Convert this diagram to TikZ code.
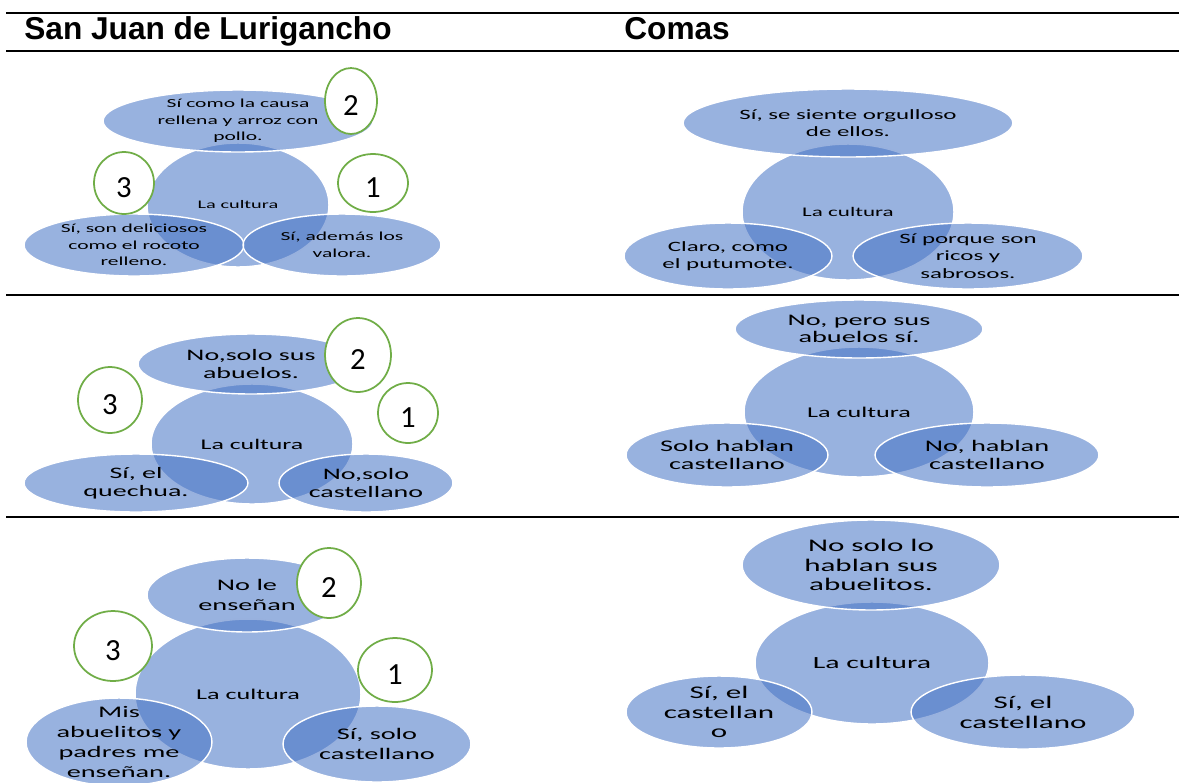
\documentclass[tikz,border=0pt]{standalone}
\usepackage{fontspec}
\setmainfont{Carlito}
\newfontfamily\widefont[FakeStretch=1.75]{Carlito}
\newfontfamily\headfont{Liberation Sans}
\usetikzlibrary{shapes.geometric}
\definecolor{bl}{RGB}{68,114,196}
\definecolor{gr}{RGB}{112,173,71}
\tikzset{
  bub/.style 2 args={ellipse, fill=bl, fill opacity=0.55, draw=white, line width=0.8pt,
    inner sep=0pt, minimum width=#1*0.04cm, minimum height=#2*0.04cm},
  txt/.style 2 args={align=center, inner sep=0pt, font=\widefont\fontsize{#1}{#2}\selectfont},
  num/.style 2 args={ellipse, draw=gr, fill=white, line width=1pt, inner sep=0pt,
    minimum width=#1*0.04cm, minimum height=#2*0.04cm, text height=17pt,
    font=\fontsize{17.5}{19}\selectfont},
  head/.style={anchor=base west, inner sep=0pt, font=\headfont\bfseries\fontsize{18}{21}\selectfont},
  hline/.style={line width=1.1pt}
}
\begin{document}
\begin{tikzpicture}[x=0.02cm,y=-0.02cm]
\useasboundingbox (0,0) rectangle (1179,782);
\draw[hline] (6,13) -- (1179,13);
\draw[hline] (6,51) -- (1179,51);
\draw[hline] (6,295) -- (1179,295);
\draw[hline] (6,517) -- (1179,517);
\node[head] (sjl) at (24,39) {San Juan de Lurigancho};
\node[head] (com) at (624,39) {Comas};

% fila 1, San Juan de Lurigancho
\node[bub={91}{62}] (c1) at (238,205) {};
\node[bub={135}{31}] (t1) at (238,121) {};
\node[bub={110}{31}] (l1) at (134,245) {};
\node[bub={99}{31}] (r1) at (342,245) {};
\node[txt={6.6}{8}] (c1t) at (c1) {La cultura};
\node[txt={7}{9.4}] (t1t) at (t1) {Sí como la causa\\rellena y arroz con\\pollo.};
\node[txt={7}{9.4}] (l1t) at (l1) {Sí, son deliciosos\\como el rocoto\\relleno.};
\node[txt={7}{9.4}] (r1t) at (r1) {Sí, además los\\valora.};
\node[num={26}{33}] (n2a) at (351,101) {2};
\node[num={30}{31}] (n3a) at (124,183) {3};
\node[num={35}{29}] (n1a) at (373,183) {1};

% fila 1, Comas
\node[bub={106}{68}] (c2) at (848,212) {};
\node[bub={165}{34}] (t2) at (848,123) {};
\node[bub={104}{33}] (l2) at (728,256) {};
\node[bub={115}{33}] (r2) at (968,256) {};
\node[txt={7.5}{9}] (c2t) at (c2) {La cultura};
\node[txt={8.1}{9.9}] (t2t) at (t2) {Sí, se siente orgulloso\\de ellos.};
\node[txt={8.1}{9.9}] (l2t) at (l2) {Claro, como\\el putumote.};
\node[txt={8.1}{9.9}] (r2t) at (r2) {Sí porque son\\ricos y\\sabrosos.};

% fila 2, San Juan de Lurigancho
\node[bub={101}{60}] (c3) at (252,444) {};
\node[bub={113}{30}] (t3) at (251,364) {};
\node[bub={112}{29}] (l3) at (136,483) {};
\node[bub={87}{29}] (r3) at (366,483) {};
\node[txt={8.4}{10}] (c3t) at (c3) {La cultura};
\node[txt={9.1}{10.2}] (t3t) at (t3) {No,solo sus\\abuelos.};
\node[txt={9.1}{10.2}] (l3t) at (l3) {Sí, el\\quechua.};
\node[txt={9.1}{10.2}] (r3t) at (r3) {No,solo\\castellano};
\node[num={33}{37}] (n2b) at (358,355) {2};
\node[num={32}{33}] (n3b) at (110,400) {3};
\node[num={30}{30}] (n1b) at (408,413) {1};

% fila 2, Comas
\node[bub={115}{65}] (c4) at (859,412) {};
\node[bub={124}{29}] (t4) at (859,329) {};
\node[bub={101}{32}] (l4) at (727,455) {};
\node[bub={112}{32}] (r4) at (987,455) {};
\node[txt={8.5}{10}] (c4t) at (c4) {La cultura};
\node[txt={9.2}{9.8}] (t4t) at (t4) {No, pero sus\\abuelos sí.};
\node[txt={9.2}{9.8}] (l4t) at (l4) {Solo hablan\\castellano};
\node[txt={9.2}{9.8}] (r4t) at (r4) {No, hablan\\castellano};

% fila 3, San Juan de Lurigancho
\node[bub={113}{75}] (c5) at (248,694) {};
\node[bub={100}{37}] (t5) at (247,595) {};
\node[bub={93}{44}] (l5) at (119,742) {};
\node[bub={94}{38}] (r5) at (377,744) {};
\node[txt={8.5}{10}] (c5t) at (c5) {La cultura};
\node[txt={9.2}{11.3}] (t5t) at (t5) {No le\\enseñan};
\node[txt={9.2}{11.3}] (l5t) at (l5) {Mis\\abuelitos y\\padres me\\enseñan.};
\node[txt={9.2}{11.3}] (r5t) at (r5) {Sí, solo\\castellano};
\node[num={32}{35}] (n2c) at (329,583) {2};
\node[num={39}{35}] (n3c) at (113,646) {3};
\node[num={37}{32}] (n1c) at (395,670) {1};

% fila 3, Comas
\node[bub={117}{61}] (c6) at (872,663) {};
\node[bub={129}{45}] (t6) at (871,565) {};
\node[bub={93}{36}] (l6) at (719,712) {};
\node[bub={112}{37}] (r6) at (1023,712) {};
\node[txt={9.7}{11}] (c6t) at (c6) {La cultura};
\node[txt={10.1}{11.3}] (t6t) at (t6) {No solo lo\\hablan sus\\abuelitos.};
\node[txt={10.1}{11.3}] (l6t) at (l6) {Sí, el\\castellan\\o};
\node[txt={10.1}{11.3}] (r6t) at (r6) {Sí, el\\castellano};
\end{tikzpicture}
\end{document}
